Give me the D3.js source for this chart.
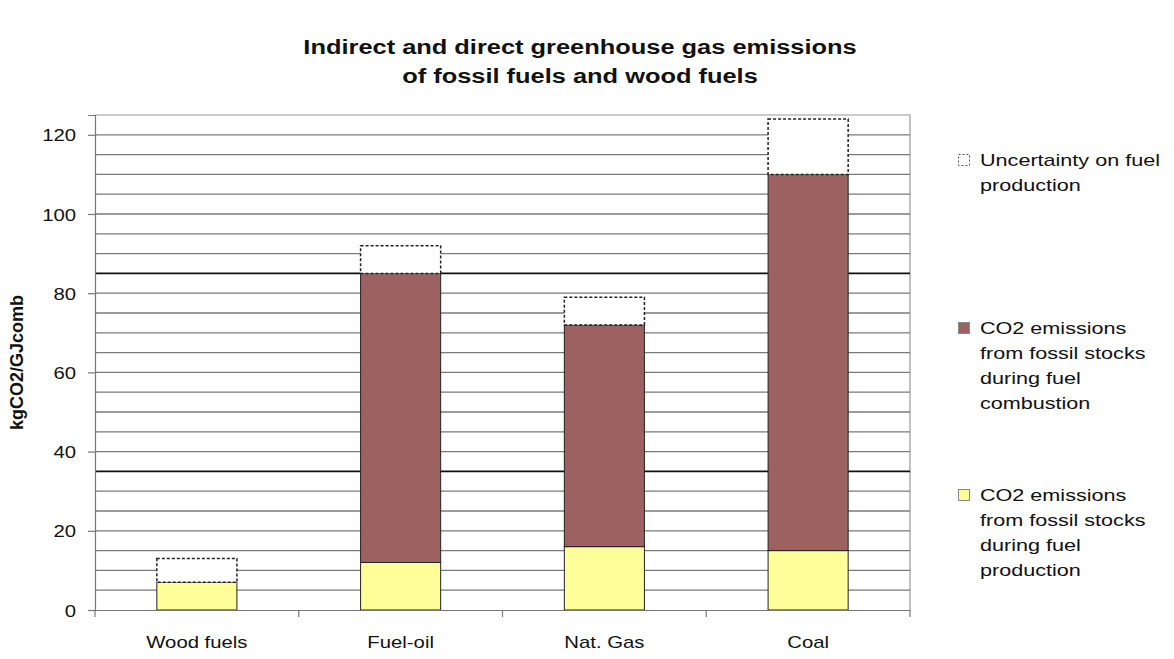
<!DOCTYPE html>
<html>
<head>
<meta charset="utf-8">
<script src="https://cdn.jsdelivr.net/npm/d3@7"></script>
<style>
  html, body { margin: 0; padding: 0; background: #fff; }
  svg { display: block; font-family: Arial, "Liberation Sans", sans-serif; }
</style>
</head>
<body>
<svg id="chart" width="1174" height="659"></svg>
<script>
// Fuel categories and stacked components (kgCO2/GJcomb)
const categories = ["Wood fuels", "Fuel-oil", "Nat. Gas", "Coal"];
const production  = [7, 12, 16, 15];     // CO2 from fossil stocks during fuel production
const combustion  = [0, 73, 56, 95];     // CO2 from fossil stocks during fuel combustion
const uncertainty = [6, 7, 7, 14];       // uncertainty on fuel production

const yTicks = [0, 20, 40, 60, 80, 100, 120];
const gridValues = d3.range(5, 125, 5);  // minor grid every 5
const refLines = [35, 85];               // emphasised horizontal lines

const titleLines = ["Indirect and direct greenhouse gas emissions", "of fossil fuels and wood fuels"];
const yLabel = "kgCO2/GJcomb";

const legendItems = [
  { key: "uncertainty", lines: ["Uncertainty on fuel", "production"] },
  { key: "combustion",  lines: ["CO2 emissions", "from fossil stocks", "during fuel", "combustion"] },
  { key: "production",  lines: ["CO2 emissions", "from fossil stocks", "during fuel", "production"] }
];

const colors = { production: "#ffff99", combustion: "#9c6262", uncertainty: "#ffffff" };

// Horizontal text is drawn slightly widened
const WIDE = 1.27;

const svg = d3.select("#chart");
const plot = { left: 95, right: 910, top: 115, bottom: 610 };

const x = d3.scaleBand().domain(categories).range([plot.left, plot.right])
  .paddingInner(0.607).paddingOuter(0.3035);
const y = d3.scaleLinear().domain([0, 125]).range([plot.bottom, plot.top]);
const step = x.step();

// Title
svg.append("g").selectAll("text").data(titleLines).join("text")
  .attr("transform", (d, i) => `translate(580,${54 + i * 29}) scale(${WIDE},1)`)
  .attr("text-anchor", "middle")
  .attr("font-size", 20).attr("font-weight", "bold").attr("fill", "#111")
  .text(d => d);

// Plot frame (top and right)
svg.append("path")
  .attr("d", `M${plot.left},${plot.top}H${plot.right}V${plot.bottom}`)
  .attr("fill", "none").attr("stroke", "#9a9a9a").attr("stroke-width", 1.2);

// Minor grid
svg.append("g").selectAll("line").data(gridValues.filter(v => !refLines.includes(v))).join("line")
  .attr("x1", plot.left).attr("x2", plot.right)
  .attr("y1", d => y(d)).attr("y2", d => y(d))
  .attr("stroke", "#7a7a7a").attr("stroke-width", 1.3);

// Emphasised lines
svg.append("g").selectAll("line").data(refLines).join("line")
  .attr("x1", plot.left).attr("x2", plot.right)
  .attr("y1", d => y(d)).attr("y2", d => y(d))
  .attr("stroke", "#111").attr("stroke-width", 1.8);

// Stacked data
const rows = categories.map((c, i) => ({ c, production: production[i], combustion: combustion[i], uncertainty: uncertainty[i] }));
const stack = d3.stack().keys(["production", "combustion", "uncertainty"])(rows);

const bars = svg.append("g");
stack.forEach(layer => {
  bars.append("g").selectAll("rect").data(layer.filter(d => d[1] > d[0])).join("rect")
    .attr("x", d => x(d.data.c))
    .attr("width", x.bandwidth())
    .attr("y", d => y(d[1]))
    .attr("height", d => y(d[0]) - y(d[1]))
    .attr("fill", colors[layer.key])
    .attr("stroke", "#222")
    .attr("stroke-width", layer.key === "uncertainty" ? 1.5 : 1)
    .attr("stroke-dasharray", layer.key === "uncertainty" ? "3,2" : null);
});

// Y axis
const yAxis = svg.append("g").attr("transform", `translate(${plot.left},0)`)
  .call(d3.axisLeft(y).tickValues(yTicks).tickSize(7).tickPadding(0));
yAxis.select(".domain").attr("stroke", "#777").attr("stroke-width", 1.2);
yAxis.selectAll(".tick line").attr("stroke", "#777").attr("stroke-width", 1.2);
yAxis.selectAll(".tick text")
  .attr("x", null).attr("dy", null)
  .attr("transform", `translate(-19,6) scale(${WIDE},1)`)
  .attr("text-anchor", "end")
  .attr("font-size", 16).attr("fill", "#111")
  .attr("font-family", "Arial, 'Liberation Sans', sans-serif");

// X axis: baseline, boundary ticks and category labels
const xAxis = svg.append("g").attr("transform", `translate(0,${plot.bottom})`)
  .call(d3.axisBottom(x).tickSize(0).tickPadding(0));
xAxis.select(".domain").attr("stroke", "#777").attr("stroke-width", 1.2);
xAxis.selectAll(".tick text")
  .attr("y", null).attr("dy", null)
  .attr("transform", `translate(0,38) scale(${WIDE},1)`)
  .attr("font-size", 16).attr("fill", "#111")
  .attr("font-family", "Arial, 'Liberation Sans', sans-serif");
xAxis.append("g").selectAll("line").data(d3.range(categories.length + 1)).join("line")
  .attr("x1", i => plot.left + i * step).attr("x2", i => plot.left + i * step)
  .attr("y1", 0).attr("y2", 7)
  .attr("stroke", "#777").attr("stroke-width", 1.2);

// Y axis title, centred on the plot area
svg.append("text")
  .attr("transform", `translate(23,${(plot.top + plot.bottom) / 2}) rotate(-90)`)
  .attr("text-anchor", "middle")
  .attr("font-size", 18).attr("font-weight", "bold").attr("fill", "#111")
  .text(yLabel);

// Legend
const legendBase = [166, 334, 501];
const lg = svg.append("g");
legendItems.forEach((item, k) => {
  const g = lg.append("g").attr("transform", `translate(958,${legendBase[k]})`);
  g.append("rect").attr("x", 0.5).attr("y", -11.5).attr("width", 11).attr("height", 11)
    .attr("fill", colors[item.key])
    .attr("stroke", item.key === "uncertainty" ? "#555" : "#888")
    .attr("stroke-width", 1)
    .attr("stroke-dasharray", item.key === "uncertainty" ? "2,2" : null);
  g.selectAll("text").data(item.lines).join("text")
    .attr("transform", (d, i) => `translate(22,${i * 25}) scale(${WIDE},1)`)
    .attr("font-size", 17).attr("fill", "#111")
    .text(d => d);
});
</script>
</body>
</html>
